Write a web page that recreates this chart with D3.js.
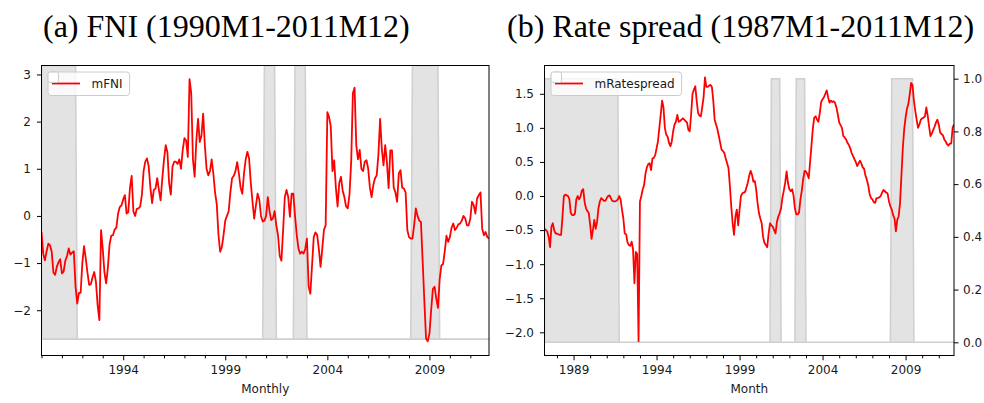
<!DOCTYPE html>
<html>
<head>
<meta charset="utf-8">
<script src="https://cdn.jsdelivr.net/npm/d3@7"></script>
<style>
  body { margin: 0; background: #fff; }
  svg { display: block; }
  .tick text { font-family: "DejaVu Sans", sans-serif; font-size: 12px; fill: #1a1a1a; }
  .tick line { stroke: #000; stroke-width: 1; }
</style>
</head>
<body>
<svg id="chart" width="984" height="403"></svg>
<script>
// ---- Data -------------------------------------------------------------
// Monthly FNI, 1990M1-2011M12 (one row per year)
const fniStart = [1990, 1];
const fniValues = [
  -0.34, -0.8, -0.94, -0.75, -0.59, -0.62, -0.76, -1.2, -1.25, -1.08, -0.98, -0.92,
  -1.22, -1.18, -0.95, -0.85, -0.69, -0.82, -0.78, -0.75, -1.5, -1.86, -1.63, -1.63,
  -1.0, -0.64, -0.9, -1.2, -1.46, -1.45, -1.3, -1.19, -1.4, -1.9, -2.21, -0.3,
  -0.7, -1.2, -1.43, -1.1, -0.6, -0.42, -0.41, -0.29, -0.25, 0.05, 0.19, 0.22,
  0.35, 0.44, 0.05, 0.08, 0.6, 0.85, 0.1, 0.0, 0.15, 0.16, 0.2, 0.45,
  0.95, 1.15, 1.22, 1.05, 0.6, 0.27, 0.55, 0.58, 0.8, 0.55, 0.33, 0.8,
  1.2, 1.5, 1.35, 0.7, 0.45, 1.05, 1.15, 1.15, 1.1, 1.2, 1.0, 1.4,
  1.65, 1.6, 1.25, 2.9, 2.6, 1.2, 0.83, 1.6, 2.06, 1.57, 1.7, 2.17,
  1.5, 1.0, 0.86, 0.95, 1.2, 0.9, 0.5, 0.25, -0.4, -0.76, -0.66, -0.4,
  -0.1, 0.0, 0.1, 0.5, 0.8, 0.85, 0.95, 1.14, 0.9, 0.6, 0.47, 0.9,
  1.2, 1.36, 1.22, 0.7, 0.3, -0.06, 0.22, 0.47, 0.35, 0.0, -0.12, -0.1,
  0.0, 0.4, 0.1, -0.09, -0.05, 0.1, -0.2, -0.41, -0.85, -0.95, -0.3, 0.4,
  0.55, 0.4, -0.02, 0.47, 0.47, 0.0, -0.4, -0.69, -0.8, -0.76, -0.8, -0.7,
  -0.48, -1.5, -1.65, -1.05, -0.45, -0.35, -0.4, -0.7, -1.08, -0.7, -0.3, -0.2,
  2.2, 2.1, 1.9, 0.95, 1.18, 0.6, 0.2, 0.7, 0.83, 0.54, 0.4, 0.2,
  0.16, 0.45, 1.14, 2.6, 2.72, 1.5, 1.2, 1.4, 1.0, 0.95, 1.15, 1.18,
  1.0, 0.6, 0.4, 0.65, 0.8, 0.86, 1.3, 2.06, 1.43, 1.07, 1.5, 1.14,
  0.59, 1.39, 1.39, 0.6, 0.5, 0.3, 0.9, 0.97, 0.6, 0.58, 0.5, -0.3,
  -0.45, -0.48, -0.48, -0.2, 0.16, 0.0, -0.1, -0.13, -0.95, -1.8, -2.6, -2.66,
  -2.5, -2.0, -1.55, -1.5, -1.75, -1.95, -1.35, -1.05, -1.02, -0.75, -0.42, -0.55,
  -0.45, -0.25, -0.16, -0.3, -0.25, -0.18, -0.16, -0.1, 0.0, -0.05, -0.2, -0.2,
  -0.06, 0.3, 0.23, 0.05, 0.37, 0.44, 0.5, -0.27, -0.41, -0.34, -0.45, -0.48
];

// Monthly rate spread, 1987M4-2011M12 (first row Apr-Dec 1987)
const spreadStart = [1987, 4];
const spreadValues = [
  -0.48, -0.5, -0.52, -0.6, -0.75, -0.45, -0.4, -0.5, -0.55,
  -0.55, -0.56, -0.57, -0.57, -0.3, 0.0, 0.02, 0.01, 0.0, -0.05, -0.25, -0.28,
  -0.28, -0.26, -0.05, 0.0, -0.05, -0.01, 0.08, 0.1, -0.09, -0.18, -0.22, -0.25,
  -0.42, -0.63, -0.5, -0.35, -0.48, -0.38, -0.18, -0.08, -0.03, -0.05, -0.07, -0.07,
  -0.03, 0.0, 0.01, -0.03, -0.07, -0.08, -0.08, -0.07, -0.05, 0.0, -0.05, -0.2,
  -0.33, -0.55, -0.56, -0.68, -0.72, -0.73, -0.67, -0.78, -1.28, -0.82, -0.85, -2.13,
  -0.08, 0.0, 0.1, 0.16, 0.33, 0.42, 0.47, 0.48, 0.38, 0.55, 0.56, 0.6,
  0.7, 0.8, 1.0, 1.19, 1.4, 1.3, 1.0, 0.9, 0.87, 0.78, 0.73, 0.8,
  0.95, 1.05, 1.09, 1.19, 1.09, 1.1, 1.12, 1.14, 1.12, 1.1, 1.08, 0.97,
  0.95, 1.2, 1.5, 1.56, 1.61, 1.4, 1.22, 1.18, 1.17, 1.3, 1.45, 1.74,
  1.6, 1.6, 1.62, 1.63, 1.6, 1.4, 1.12, 1.05, 0.98, 0.88, 0.78, 0.68,
  0.66, 0.63, 0.55, 0.48, 0.41, 0.15, -0.15, -0.4, -0.57, -0.3, -0.2, -0.43,
  -0.2, 0.0, 0.04, 0.05, 0.06, 0.13, 0.2, 0.3, 0.37, 0.31, 0.21, 0.22,
  0.1, -0.1, -0.25, -0.33, -0.4, -0.6, -0.69, -0.72, -0.75, -0.55, -0.4, -0.43,
  -0.45, -0.5, -0.55, -0.38, -0.3, -0.25, -0.18, -0.02, 0.08, 0.2, 0.36, 0.19,
  0.1, 0.07, 0.1, 0.01, -0.18, -0.27, -0.27, -0.24, -0.05, 0.08, 0.25, 0.37,
  0.36, 0.32, 0.26, 0.5, 0.75, 1.0, 1.15, 1.17, 1.12, 1.09, 1.22, 1.38,
  1.42, 1.45, 1.5, 1.55, 1.45, 1.37, 1.4, 1.38, 1.39, 1.37, 1.3, 1.2,
  1.08, 1.04, 1.0, 0.88, 0.86, 0.83, 0.78, 0.75, 0.7, 0.63, 0.59, 0.54,
  0.5, 0.44, 0.48, 0.52, 0.48, 0.42, 0.4, 0.3, 0.24, 0.16, 0.03, -0.03,
  -0.05, -0.09, -0.1, -0.03, -0.03, -0.02, 0.0, 0.05, 0.09, 0.07, 0.05, 0.04,
  -0.08, -0.15, -0.2, -0.28, -0.33, -0.52, -0.35, -0.3, -0.1, 0.3, 0.7, 0.98,
  1.15, 1.28, 1.35, 1.49, 1.66, 1.63, 1.4, 1.25, 1.12, 1.0, 1.05, 1.12,
  1.14, 1.15, 1.17, 1.3, 1.18, 1.02, 0.88, 0.92, 0.97, 1.02, 1.08, 1.12,
  1.05, 0.93, 0.91, 0.89, 0.83, 0.8, 0.76, 0.74, 0.77, 0.77, 1.0, 1.05
];

// Recession periods (shaded), first and last month of each
const recessionStart = ["1987-01", "2000-12", "2002-06", "2008-03"];
const recessionEnd   = ["1991-09", "2001-06", "2002-12", "2009-06"];

// Tick labels
const fniYTicks = [-2, -1, 0, 1, 2, 3];
const fniYearTicks = [1994, 1999, 2004, 2009];
const spreadYTicks = [-2.0, -1.5, -1.0, -0.5, 0.0, 0.5, 1.0, 1.5];
const spreadYearTicks = [1989, 1994, 1999, 2004, 2009];
const shareTicks = [0.0, 0.2, 0.4, 0.6, 0.8, 1.0];

// ---- Helpers ----------------------------------------------------------
const ymToT = s => { const [y, m] = s.split("-").map(Number); return y + (m - 1) / 12; };
const monthT = (start, i) => start[0] + (start[1] - 1 + i) / 12;
const bands = recessionStart.map((s, i) => [ymToT(s), ymToT(recessionEnd[i])]);
const inRecession = t => bands.some(([a, b]) => t >= a - 1e-6 && t <= b + 1e-6) ? 1 : 0;

const svg = d3.select("#chart");

function drawPanel(cfg, idx) {
  const { x0, x1, y0, y1 } = cfg;
  const n = cfg.values.length;
  const tFirst = monthT(cfg.start, 0), tLast = monthT(cfg.start, n - 1);

  const x = d3.scaleLinear().domain([tFirst, tLast]).range([x0, x1]);
  const y = d3.scaleLinear().domain(cfg.yDomain).range([y1, y0]);
  const yShade = d3.scaleLinear().domain(cfg.shadeDomain).range([y1, y0]);

  const g = svg.append("g");
  const clipId = "clip" + idx;
  svg.append("clipPath").attr("id", clipId)
    .append("rect").attr("x", x0).attr("y", y0).attr("width", x1 - x0).attr("height", y1 - y0);

  // Recession shading (0/1 monthly indicator)
  const shade = d3.range(n).map(i => { const t = monthT(cfg.start, i); return { t, v: inRecession(t) }; });
  g.append("path")
    .datum(shade)
    .attr("clip-path", `url(#${clipId})`)
    .attr("d", d3.area().x(d => x(d.t)).y0(yShade(0)).y1(d => yShade(d.v)))
    .attr("fill", "#e3e3e3")
    .attr("stroke", "#d0d0d0")
    .attr("stroke-width", 1.6);

  // Series line
  const series = cfg.values.map((v, i) => ({ t: monthT(cfg.start, i), v }));
  g.append("path")
    .datum(series)
    .attr("clip-path", `url(#${clipId})`)
    .attr("d", d3.line().x(d => x(d.t)).y(d => y(d.v)))
    .attr("fill", "none")
    .attr("stroke", "#ff0000")
    .attr("stroke-width", 1.8)
    .attr("stroke-linejoin", "round");

  // Axes
  const yAxis = g.append("g").attr("transform", `translate(${x0},0)`)
    .call(d3.axisLeft(y).tickValues(cfg.yTicks).tickFormat(d3.format(cfg.yFormat)).tickSize(4.5).tickPadding(6));
  yAxis.select(".domain").remove();

  if (cfg.rightTicks) {
    const ra = g.append("g").attr("transform", `translate(${x1},0)`)
      .call(d3.axisRight(yShade).tickValues(cfg.rightTicks).tickFormat(d3.format(".1f")).tickSize(4.5).tickPadding(4.5));
    ra.select(".domain").remove();
  }

  const minorYears = d3.range(Math.ceil(tFirst), Math.floor(tLast) + 1).filter(yr => !cfg.yearTicks.includes(yr));
  const minor = g.append("g").attr("transform", `translate(0,${y1})`)
    .call(d3.axisBottom(x).tickValues(minorYears).tickFormat("").tickSize(2.8));
  minor.select(".domain").remove();
  const major = g.append("g").attr("transform", `translate(0,${y1})`)
    .call(d3.axisBottom(x).tickValues(cfg.yearTicks).tickFormat(d3.format("d")).tickSize(4.8).tickPadding(5));
  major.select(".domain").remove();

  // Frame
  g.append("rect")
    .attr("x", x0).attr("y", y0).attr("width", x1 - x0).attr("height", y1 - y0)
    .attr("fill", "none").attr("stroke", "#000").attr("stroke-width", 1);

  // Axis label
  g.append("text")
    .attr("x", (x0 + x1) / 2).attr("y", 393)
    .attr("text-anchor", "middle")
    .attr("font-family", "DejaVu Sans, sans-serif").attr("font-size", 12).attr("fill", "#1a1a1a")
    .text(cfg.xLabel);

  // Legend
  const lx = x0 + 6.5, ly = y0 + 6.5;
  const leg = g.append("g");
  const box = leg.append("rect")
    .attr("x", lx).attr("y", ly).attr("height", 23.5).attr("rx", 3)
    .attr("fill", "#fff").attr("fill-opacity", 0.8)
    .attr("stroke", "#cccccc").attr("stroke-width", 1);
  leg.append("line")
    .attr("x1", lx + 4).attr("x2", lx + 32).attr("y1", ly + 11.5).attr("y2", ly + 11.5)
    .attr("stroke", "#ff0000").attr("stroke-width", 1.8);
  const lt = leg.append("text")
    .attr("x", lx + 43.5).attr("y", ly + 16)
    .attr("font-family", "DejaVu Sans, sans-serif").attr("font-size", 12).attr("fill", "#1a1a1a")
    .text(cfg.legend);
  box.attr("width", 43.5 + lt.node().getComputedTextLength() + 7);
  // empty legend frame of the shading layer
  leg.append("rect")
    .attr("x", lx).attr("y", ly).attr("width", 10.5).attr("height", 10.5).attr("rx", 2)
    .attr("fill", "#fff").attr("fill-opacity", 0.8)
    .attr("stroke", "#cccccc").attr("stroke-width", 1);

  // Title
  svg.append("text")
    .attr("x", cfg.titleX).attr("y", 36.5)
    .attr("font-family", "Liberation Serif, Times New Roman, serif").attr("font-size", 32).attr("fill", "#000")
    .text(cfg.title);
}

drawPanel({
  x0: 41.5, x1: 489, y0: 65.5, y1: 355.5,
  start: fniStart, values: fniValues,
  yDomain: [-2.96, 3.19], yTicks: fniYTicks, yFormat: "d",
  shadeDomain: [-0.06, 1.0],
  yearTicks: fniYearTicks,
  xLabel: "Monthly", legend: "mFNI",
  title: "(a) FNI (1990M1-2011M12)", titleX: 43
}, 0);

drawPanel({
  x0: 544.5, x1: 954, y0: 65.5, y1: 355.5,
  start: spreadStart, values: spreadValues,
  yDomain: [-2.34, 1.915], yTicks: spreadYTicks, yFormat: ".1f",
  shadeDomain: [-0.05, 1.05], rightTicks: shareTicks,
  yearTicks: spreadYearTicks,
  xLabel: "Month", legend: "mRatespread",
  title: "(b) Rate spread (1987M1-2011M12)", titleX: 507
}, 1);
</script>
</body>
</html>
